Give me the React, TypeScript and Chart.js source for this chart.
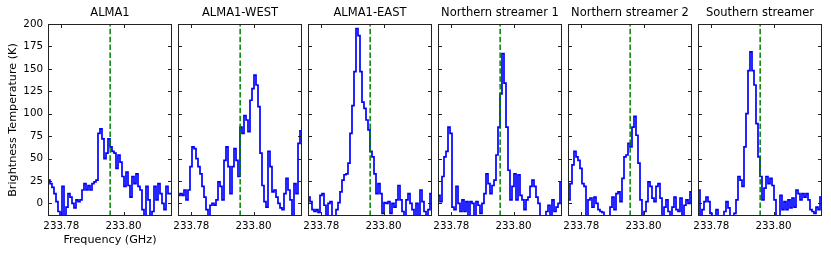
import React, { useEffect, useRef } from 'react';
import { Chart, registerables } from 'chart.js';

Chart.register(...registerables);

// ---- Data ----
const PANEL_TITLES = ['ALMA1', 'ALMA1-WEST', 'ALMA1-EAST', 'Northern streamer 1', 'Northern streamer 2', 'Southern streamer'];
const FREQ_MIN = 233.7757; // GHz, first channel edge
const FREQ_MAX = 233.8156; // GHz, last channel edge
const REST_FREQ = 233.7957; // GHz, dashed reference line
const X_TICKS = [233.78, 233.8];
const Y_TICKS = [0, 25, 50, 75, 100, 125, 150, 175, 200];
const Y_MIN = -14;
const Y_MAX = 200;

const ALMA1 = [26, 22, 18, 11, 2, -9, -20, 19, -20, -4, 11, 7, 0, -5, 4, 2, 4, 15, 22, 15, 20, 15, 22, 24, 26, 78, 83, 72, 50, 56, 72, 63, 58, 56, 39, 54, 46, 30, 19, 35, 20, 7, 30, 22, 33, 19, 15, -7, -20, 19, 4, -20, -9, 19, 4, 22, 11, 0, -7, 19, 11, 11];
const ALMA1_WEST = [9, 11, 9, 15, 4, 15, 41, 63, 61, 50, 41, 33, 19, 7, -7, -20, -2, 0, -2, 4, 24, 19, 4, 48, 63, 41, 11, 41, 61, 48, 30, 85, 78, 98, 93, 80, 115, 128, 143, 132, 108, 56, 20, 2, -4, 58, 41, 13, 15, 7, 0, -5, -7, 11, 28, 15, 4, -20, 22, 11, 67, 81];
const ALMA1_EAST = [7, 2, -7, -9, -7, -10, 9, 11, -2, -20, 0, 2, -20, -20, -7, 1, 13, 26, 32, 33, 45, 78, 109, 147, 195, 187, 147, 113, 106, 93, 82, 58, 52, 33, 11, 22, 11, -11, 1, 0, 2, -11, 0, -4, 4, 20, 4, -9, -20, 4, 11, 0, -7, -20, 0, -20, 15, 2, -9, -20, -7, 11];
const NORTHERN_1 = [9, 2, 30, 52, 58, 85, 78, -4, -7, 19, 0, -9, 4, -9, 2, -20, 2, 0, -20, 2, -2, -11, 0, 11, 33, 22, 11, 20, 26, 54, 85, 122, 167, 134, 85, 37, 4, 19, 33, 4, 32, 9, 4, -7, 4, 7, 19, 26, 19, 7, 0, -20, -20, -20, -9, -2, -20, 4, -9, -4, 0, 24];
const NORTHERN_2 = [4, 22, 43, 58, 52, 48, 39, 22, 19, -20, 4, 6, -4, 7, 0, -7, -9, -10, -20, -20, -20, -4, 7, -7, 11, 13, 2, 28, 52, 54, 67, 63, 85, 97, 76, 45, 4, -20, -9, 2, 24, 19, 6, 2, 19, 22, 6, -20, -4, 4, -9, -20, -4, 7, -7, -9, 6, -20, -2, 4, 0, 13];
const SOUTHERN = [15, -20, -7, 2, 7, 2, -11, -20, -20, -7, -20, -20, -20, -9, 2, -5, -20, -20, -11, 4, 30, 26, 19, 63, 100, 148, 169, 148, 132, 89, 52, 30, 4, 17, 30, 22, 28, 20, 4, -20, -20, 9, -7, 2, -7, 4, -5, 6, -4, 15, 11, 4, 11, 7, 11, 4, -7, -9, -11, -4, -7, 7];

const SPECTRA = [ALMA1, ALMA1_WEST, ALMA1_EAST, NORTHERN_1, NORTHERN_2, SOUTHERN];

// ---- Layout / style ----
const W = 831;
const H = 255;
const PANEL_LEFT0 = 48;
const PANEL_STEP = 130;
const PANEL_WIDTH = 124;
const AREA_TOP = 24;
const AREA_BOTTOM = 216;
const FONT = 'DejaVu Sans';

const framePlugin = {
  id: 'frameTicks',
  afterDatasetsDraw(chart: any) {
    const { ctx, chartArea: a, scales } = chart;
    const l = Math.round(a.left) + 0.5;
    const r = Math.round(a.right) - 0.5;
    const t = Math.round(a.top) + 0.5;
    const b = Math.round(a.bottom) - 0.5;
    const tl = 3.5;
    ctx.save();
    ctx.strokeStyle = '#222';
    ctx.lineWidth = 1;
    ctx.strokeRect(l, t, r - l, b - t);
    ctx.beginPath();
    for (const v of Y_TICKS) {
      const y = Math.round(scales.y.getPixelForValue(v)) + 0.5;
      ctx.moveTo(l, y); ctx.lineTo(l + tl, y);
      ctx.moveTo(r, y); ctx.lineTo(r - tl, y);
    }
    for (const v of X_TICKS) {
      const x = Math.round(scales.x.getPixelForValue(v)) + 0.5;
      ctx.moveTo(x, t); ctx.lineTo(x, t + tl);
      ctx.moveTo(x, b); ctx.lineTo(x, b - tl);
    }
    ctx.stroke();
    ctx.restore();
  },
};

function Panel({ index }: { index: number }) {
  const ref = useRef<HTMLCanvasElement>(null);
  useEffect(() => {
    const canvas = ref.current!;
    const values = SPECTRA[index];
    const dx = (FREQ_MAX - FREQ_MIN) / values.length;
    const pts = values.map((v, k) => ({ x: FREQ_MIN + k * dx, y: v }));
    pts.push({ x: FREQ_MAX, y: values[values.length - 1] });
    const left = PANEL_LEFT0 + index * PANEL_STEP;
    const right = left + PANEL_WIDTH;
    const first = index === 0;
    const chart = new Chart(canvas, {
      type: 'line',
      data: {
        datasets: [
          {
            data: [{ x: REST_FREQ, y: Y_MIN }, { x: REST_FREQ, y: Y_MAX }],
            borderColor: '#008000',
            borderWidth: 1.5,
            borderDash: [5.5, 2.4],
            pointRadius: 0,
            order: 0,
          },
          {
            data: pts,
            borderColor: '#0000ff',
            borderWidth: 1.7,
            stepped: 'before',
            pointRadius: 0,
            order: 1,
          },
        ],
      },
      options: {
        responsive: false,
        animation: false,
        devicePixelRatio: 1,
        events: [],
        layout: { padding: { left: first ? 0 : left, right: W - right, top: 0, bottom: 0 } },
        plugins: {
          legend: { display: false },
          tooltip: { enabled: false },
          title: {
            display: true,
            text: PANEL_TITLES[index],
            fullSize: false,
            color: '#000',
            font: { family: FONT, size: 11.5, weight: 'normal' },
            padding: { top: 6.6, bottom: AREA_TOP - 6.6 - 13.8 },
          },
        },
        scales: {
          x: {
            type: 'linear',
            min: FREQ_MIN,
            max: FREQ_MAX,
            afterBuildTicks: (s: any) => { s.ticks = X_TICKS.map((v) => ({ value: v })); },
            afterFit: (s: any) => { s.height = H - AREA_BOTTOM; },
            grid: { display: false, drawTicks: false },
            border: { display: false },
            ticks: {
              color: '#000',
              font: { family: FONT, size: 10.3 },
              padding: 4,
              maxRotation: 0,
              autoSkip: false,
              callback: (v: any) => Number(v).toFixed(2),
            },
            title: {
              display: first,
              text: 'Frequency (GHz)',
              color: '#000',
              font: { family: FONT, size: 11.2 },
              padding: { top: 0, bottom: 8 },
            },
          },
          y: {
            type: 'linear',
            display: first,
            min: Y_MIN,
            max: Y_MAX,
            afterBuildTicks: (s: any) => { s.ticks = Y_TICKS.map((v) => ({ value: v })); },
            afterFit: (s: any) => { s.width = first ? PANEL_LEFT0 : 0; },
            grid: { display: false, drawTicks: false },
            border: { display: false },
            ticks: {
              color: '#000',
              font: { family: FONT, size: 10.3 },
              padding: 5,
            },
            title: {
              display: true,
              text: 'Brightness Temperature (K)',
              color: '#000',
              font: { family: FONT, size: 11.2 },
              padding: { top: 6, bottom: 0 },
            },
          },
        },
      },
      plugins: [framePlugin],
    } as any);
    return () => chart.destroy();
  }, [index]);
  return (
    <canvas
      ref={ref}
      width={W}
      height={H}
      style={{ position: 'absolute', left: 0, top: 0, width: W, height: H, pointerEvents: 'none' }}
    />
  );
}

export default function App() {
  return (
    <div style={{ position: 'absolute', left: 0, top: 0, width: W, height: H, background: '#fff', overflow: 'hidden' }}>
      {PANEL_TITLES.map((_, i) => (
        <Panel key={i} index={i} />
      ))}
    </div>
  );
}
